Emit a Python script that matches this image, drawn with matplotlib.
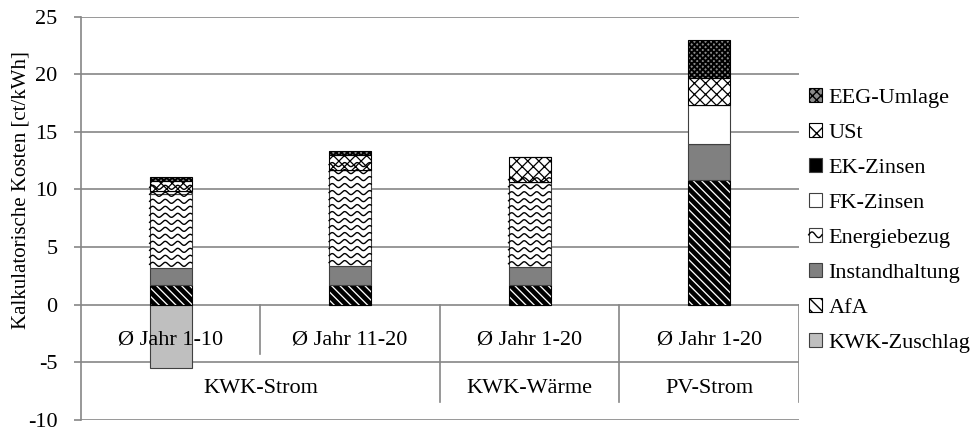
import numpy as np
import matplotlib
matplotlib.use("Agg")
import matplotlib.pyplot as plt
from matplotlib.patches import Rectangle, Patch
from matplotlib.lines import Line2D
from matplotlib.legend_handler import HandlerPatch

plt.rcParams['font.family'] = ['Liberation Serif', 'DejaVu Serif']
plt.rcParams['axes.unicode_minus'] = False
plt.rcParams['hatch.linewidth'] = 1.0

# Daten (ct/kWh)
kategorien = ['Ø Jahr 1-10', 'Ø Jahr 11-20', 'Ø Jahr 1-20', 'Ø Jahr 1-20']
gruppen = ['KWK-Strom', 'KWK-Wärme', 'PV-Strom']
gruppen_pos = [0.5, 2.0, 3.0]

kwk_zuschlag = [-5.5, 0.0, 0.0, 0.0]
afa = [1.7, 1.7, 1.7, 10.8]
instandhaltung = [1.5, 1.65, 1.55, 3.1]
energiebezug = [6.4, 8.35, 7.4, 0.0]
fk_zinsen = [0.25, 0.0, 0.0, 3.45]
ek_zinsen = [0.0, 0.0, 0.0, 0.0]
ust = [0.9, 1.25, 2.2, 2.3]
eeg_umlage = [0.3, 0.35, 0.0, 3.3]

grau = '#868686'
rand = '#404040'

fig = plt.figure(figsize=(9.79, 4.28), dpi=100)
ax = fig.add_axes([0.0827, 0.0187, 0.7333, 0.9427])
ax.set_xlim(-0.5, 3.5)
ax.set_ylim(-10, 25)

x = np.arange(len(kategorien))
bw = 0.235

# Reihen: (Name, Werte, Füllung, Schraffur, Strichstärke)
reihen = [
    ('AfA', afa, 'white', '\\\\\\\\', 3.3),
    ('Instandhaltung', instandhaltung, '#808080', '', 1.0),
    ('Energiebezug', energiebezug, 'white', '', 1.0),
    ('FK-Zinsen', fk_zinsen, 'white', '', 1.0),
    ('EK-Zinsen', ek_zinsen, 'black', '', 1.0),
    ('USt', ust, 'white', 'xxx', 0.9),
    ('EEG-Umlage', eeg_umlage, '#8a8a8a', 'xxxxxx', 1.4),
]

ax.bar(x, kwk_zuschlag, bw, color='#bfbfbf', edgecolor=rand, linewidth=0.8, zorder=3)

boden = np.zeros(len(x))
bars = {}
for name, werte, fc, hatch, hlw in reihen:
    with plt.rc_context({'hatch.linewidth': hlw}):
        b = ax.bar(x, werte, bw, bottom=boden, color=fc, edgecolor=rand if not hatch else 'black',
                   linewidth=0.8, hatch=hatch, zorder=3)
        for p in b:
            try:
                p.set_hatch_linewidth(hlw)
            except AttributeError:
                pass
    bars[name] = b
    boden = boden + np.array(werte)

# Wellenmuster für Energiebezug
fig.canvas.draw()
inv = ax.transData.inverted()
def px2data(dx, dy):
    p0 = inv.transform((0, 0))
    p1 = inv.transform((dx, dy))
    return p1[0] - p0[0], p1[1] - p0[1]

per_x, _ = px2data(12.5, 0)
_, abst_y = px2data(0, 7.0)
_, amp_y = px2data(0, 2.0)
for p in bars['Energiebezug']:
    if p.get_height() <= 0:
        continue
    x0, y0 = p.get_x(), p.get_y()
    w, h = p.get_width(), p.get_height()
    xs = np.linspace(x0, x0 + w, 200)
    yy = y0 + abst_y * 0.5
    while yy < y0 + h + abst_y:
        ys = yy + amp_y * np.sin(2 * np.pi * (xs - x0) / per_x)
        ln = Line2D(xs, ys, color='black', lw=1.0, zorder=3.5)
        ln.set_clip_path(p)
        ax.add_line(ln)
        yy += abst_y

# Gitter und Achse
for yv in range(-10, 26, 5):
    ax.axhline(yv, color=grau, lw=1.2, zorder=1)
for s in ['top', 'right', 'bottom']:
    ax.spines[s].set_visible(False)
ax.spines['left'].set_color(grau)
ax.spines['left'].set_linewidth(1.2)
ax.set_yticks(range(-10, 26, 5))
ax.tick_params(axis='y', colors=grau, length=5, width=1.2, labelsize=16, labelcolor='black', pad=12)
ax.set_xticks([])
ax.set_ylabel('Kalkulatorische Kosten [ct/kWh]', fontsize=15)
ax.yaxis.set_label_coords(-0.07, 0.57)

# Kategorie-Tabelle unter der Nulllinie
ax.plot([0.5, 0.5], [0, -4.25], color=grau, lw=1.2, zorder=2)
for xv in [1.5, 2.5, 3.5]:
    ax.plot([xv, xv], [0, -8.4], color=grau, lw=1.2, zorder=2)
for xi, lab in zip(x, kategorien):
    ax.text(xi, -3.1, lab, ha='center', va='center', fontsize=16, zorder=4)
for xp, lab in zip(gruppen_pos, gruppen):
    ax.text(xp, -7.3, lab, ha='center', va='center', fontsize=16, zorder=4)

# Legende
class WelleHandler(HandlerPatch):
    def create_artists(self, legend, orig_handle, xdescent, ydescent, width, height, fontsize, trans):
        r = Rectangle((-xdescent, -ydescent), width, height, facecolor='white',
                      edgecolor=rand, lw=0.8, transform=trans)
        xs = np.linspace(-xdescent, -xdescent + width, 30)
        ys = -ydescent + height * 0.5 + height * 0.2 * np.sin(2 * np.pi * xs / width)
        ln = Line2D(xs, ys, color='black', lw=1.0, transform=trans)
        return [r, ln]

wellen_handle = Patch(facecolor='white', edgecolor=rand)
handles = [
    Patch(facecolor='#8a8a8a', edgecolor='black', hatch='xxxx', lw=0.8),
    Patch(facecolor='white', edgecolor='black', hatch='xx', lw=0.8),
    Patch(facecolor='black', edgecolor=rand, lw=0.8),
    Patch(facecolor='white', edgecolor=rand, lw=0.8),
    wellen_handle,
    Patch(facecolor='#808080', edgecolor=rand, lw=0.8),
    Patch(facecolor='white', edgecolor='black', hatch='\\\\\\', lw=0.8),
    Patch(facecolor='#bfbfbf', edgecolor=rand, lw=0.8),
]
labels = ['EEG-Umlage', 'USt', 'EK-Zinsen', 'FK-Zinsen', 'Energiebezug',
          'Instandhaltung', 'AfA', 'KWK-Zuschlag']
fig.legend(handles, labels, loc='upper left', bbox_to_anchor=(0.826, 0.795),
           frameon=False, fontsize=16, handlelength=0.6, handleheight=0.6,
           handletextpad=0.3, labelspacing=0.68, borderaxespad=0, borderpad=0,
           handler_map={wellen_handle: WelleHandler()})

fig.savefig('out.png', dpi=100)
